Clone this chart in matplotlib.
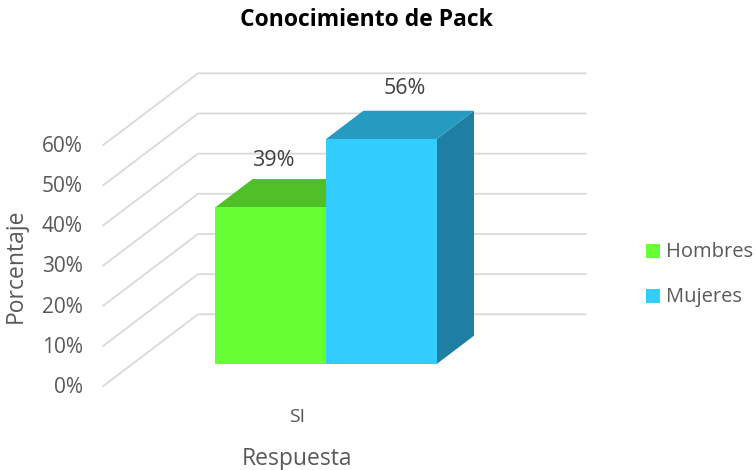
#!/usr/bin/env python
# coding: utf-8

import matplotlib
matplotlib.use('Agg')
import matplotlib.pyplot as plt
from matplotlib.patches import Rectangle

# datos
categoria = 'SI'
series = ['Hombres', 'Mujeres']
valores = [39, 56]
ticks = [0, 10, 20, 30, 40, 50, 60]
tick_labels = ['0%', '10%', '20%', '30%', '40%', '50%', '60%']

plt.rcParams['font.family'] = ['Open Sans', 'DejaVu Sans']

# colores: frente, tapa, lateral
col_frente = ['#66ff33', '#33ccff']
col_tapa = ['#4fc028', '#259bc2']
col_lado = ['#3f9a20', '#1f7fa3']
col_texto = '#595959'

# escala: eje x en pixeles, eje y en porcentaje
ESC = 4.017              # px por 1%
Y0 = 364.0               # pixel de 0% en el frente de las barras
def px2pct(py):
    return (Y0 - py) / ESC

fig = plt.figure(figsize=(7.56, 4.7), dpi=100)
ax = fig.add_axes([0, 0, 1, 1])
ax.set_xlim(0, 756)
ax.set_ylim(px2pct(470), px2pct(0))
ax.axis('off')

# piso y pared del grafico 3D
piso_x = (103.3, 198.0, 585.7)
piso_y = (px2pct(386.0), px2pct(314.3))
for t in ticks:
    ax.plot(piso_x, [piso_y[0] + t, piso_y[1] + t, piso_y[1] + t],
            color='#d9d9d9', lw=1.3, solid_joinstyle='miter', zorder=1)

# barras
bordes = [215.3, 326.0]
ancho = 110.7
dx, dy = 37.3, 28.3 / ESC
for i in range(len(series)):
    x0, v = bordes[i], valores[i]
    x1 = x0 + ancho
    z = 2 + i
    ax.fill([x1, x1 + dx, x1 + dx, x1], [0, dy, v + dy, v],
            color=col_lado[i], lw=0, zorder=z)
    ax.fill([x0, x1, x1 + dx, x0 + dx], [v, v, v + dy, v + dy],
            color=col_tapa[i], lw=0, zorder=z)
    ax.bar(x0, v, width=ancho, align='edge', color=col_frente[i], lw=0, zorder=z + 0.5)

# etiquetas de valor
pos_etq = [(273, px2pct(160)), (405, px2pct(89))]
for (x, y), v in zip(pos_etq, valores):
    ax.text(x, y, f'{v}%', ha='center', va='center', fontsize=15.5, color='#404040')

# etiquetas del eje
for t, lab in zip(ticks, tick_labels):
    ax.text(83, px2pct(387.5) + t, lab, ha='right', va='center', fontsize=15, color=col_texto)
ax.text(297, px2pct(417), categoria, ha='center', va='center', fontsize=14, color=col_texto)
ax.text(297, px2pct(459), 'Respuesta', ha='center', va='center', fontsize=16.5, color=col_texto)
ax.text(16, px2pct(266), 'Porcentaje', rotation=90, ha='center', va='center', fontsize=16.5, color=col_texto)
ax.text(366, px2pct(20), 'Conocimiento de Pack', ha='center', va='center',
        fontsize=16.5, fontweight='bold', color='black')

# leyenda
ley_y = [251, 296]
for i, nombre in enumerate(series):
    ax.add_patch(Rectangle((646, px2pct(ley_y[i] + 7)), 14, 14 / ESC, color=col_frente[i], lw=0))
    ax.text(666, px2pct(ley_y[i] + 1), nombre, ha='left', va='center', fontsize=14.5, color=col_texto)

plt.savefig('out.png', dpi=100)
plt.close()
